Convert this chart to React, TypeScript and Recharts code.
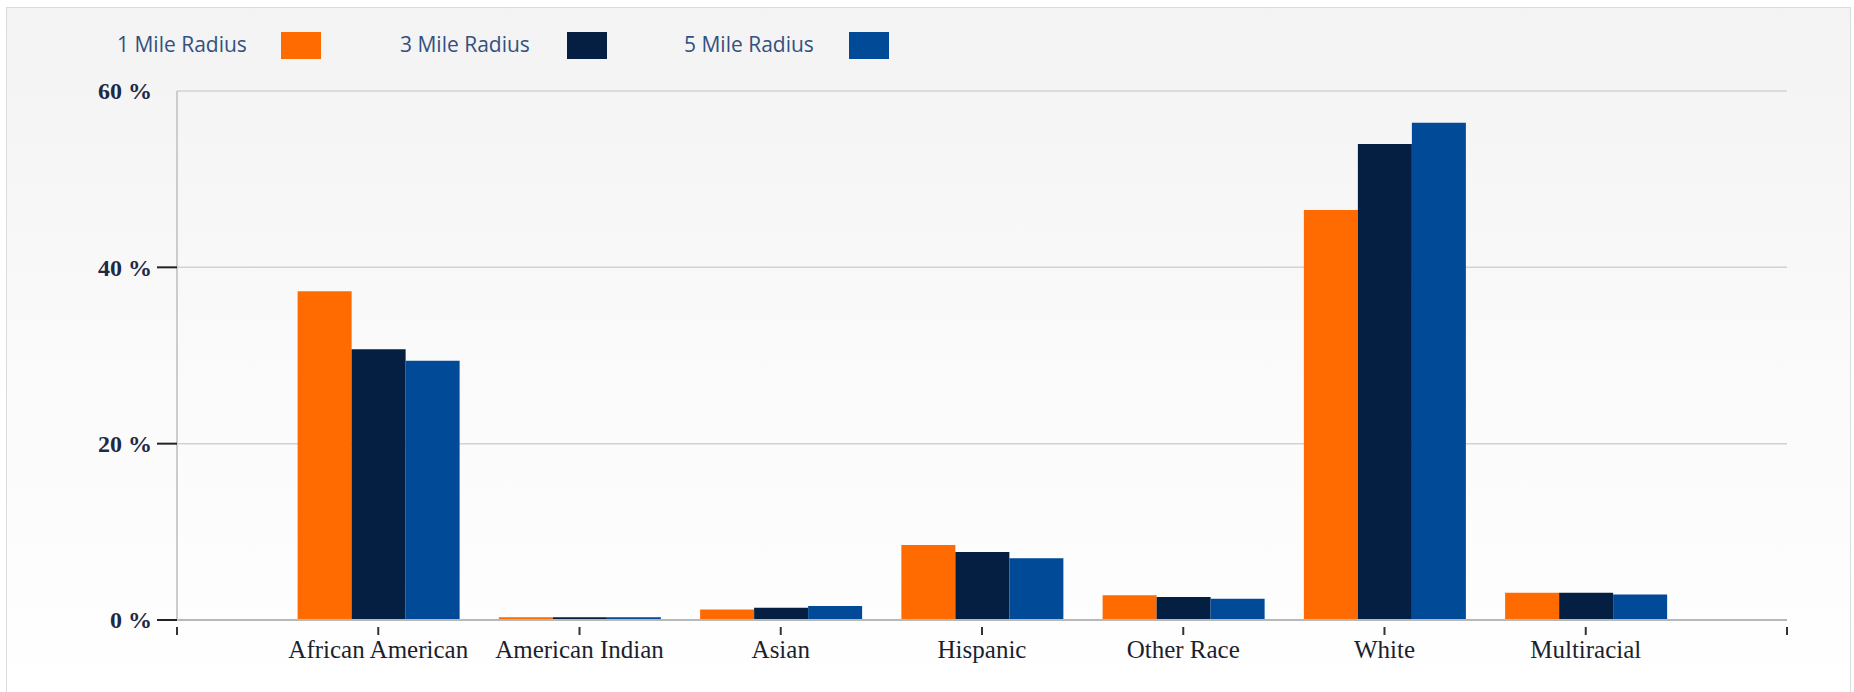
import React from "react";
import { BarChart, Bar, XAxis, YAxis, CartesianGrid } from "recharts";

const categories = [
  "African American",
  "American Indian",
  "Asian",
  "Hispanic",
  "Other Race",
  "White",
  "Multiracial",
];
const oneMile = [37.3, 0.3, 1.2, 8.5, 2.8, 46.5, 3.1];
const threeMile = [30.7, 0.3, 1.4, 7.7, 2.6, 54.0, 3.1];
const fiveMile = [29.4, 0.3, 1.6, 7.0, 2.4, 56.4, 2.9];
const yTicks = [0, 20, 40, 60];

const series = [
  { key: "one", name: "1 Mile Radius", color: "#ff6b00" },
  { key: "three", name: "3 Mile Radius", color: "#041f42" },
  { key: "five", name: "5 Mile Radius", color: "#004a97" },
];

// categories sit on slots 1..7 of a 0..8 numeric axis
const data = categories.map((name, i) => ({
  name,
  pos: i + 1,
  one: oneMile[i],
  three: threeMile[i],
  five: fiveMile[i],
}));
const xTicks = [0, 1, 2, 3, 4, 5, 6, 7, 8];

const XTick = (props: any) => {
  const { x, y, payload } = props;
  const label = categories[payload.value - 1] ?? "";
  return (
    <g>
      <line x1={x} x2={x} y1={y - 1} y2={y + 7} stroke="#333" strokeWidth={2} />
      <text
        x={x}
        y={y + 30}
        textAnchor="middle"
        fontFamily="'Liberation Serif', serif"
        fontSize={25}
        fill="#1b1f2e"
      >
        {label}
      </text>
    </g>
  );
};

const YTick = (props: any) => {
  const { x, y, payload } = props;
  return (
    <g>
      {payload.value !== 60 && (
        <line x1={x + 5} x2={x + 25} y1={y} y2={y} stroke="#222" strokeWidth={2} />
      )}
      <text
        x={x}
        y={y}
        dy="0.35em"
        textAnchor="end"
        fontFamily="'Liberation Serif', serif"
        fontWeight="bold"
        fontSize={24}
        fill="#1e2a44"
      >
        {`${payload.value} %`}
      </text>
    </g>
  );
};

const legendPos = [
  { text: 117, swatch: 281 },
  { text: 400, swatch: 567 },
  { text: 684, swatch: 849 },
];

export default function App() {
  return (
    <div
      style={{
        position: "absolute",
        left: 0,
        top: 0,
        width: 1854,
        height: 692,
        background: "#fff",
        overflow: "hidden",
      }}
    >
      <div
        style={{
          position: "absolute",
          left: 6,
          top: 7,
          width: 1843,
          height: 700,
          border: "1px solid #dcdcdc",
          background: "linear-gradient(#f3f3f3 0%, #fafafa 50%, #ffffff 100%)",
        }}
      />
      {series.map((s, i) => (
        <React.Fragment key={s.key}>
          <div
            style={{
              position: "absolute",
              left: legendPos[i].text,
              top: 31,
              fontFamily: "'Liberation Sans Narrow', 'Open Sans', sans-serif",
              fontSize: 21,
              lineHeight: "26px",
              color: "#34507f",
              whiteSpace: "nowrap",
            }}
          >
            {s.name}
          </div>
          <div
            style={{
              position: "absolute",
              left: legendPos[i].swatch,
              top: 32,
              width: 40,
              height: 27,
              background: s.color,
            }}
          />
        </React.Fragment>
      ))}
      <div style={{ position: "absolute", left: 0, top: 0 }}>
        <BarChart
          width={1854}
          height={692}
          data={data}
          margin={{ top: 91, right: 67, left: 0, bottom: 12 }}
          barGap={0}
          barSize={54}
        >
          <CartesianGrid vertical={false} stroke="#d2d2d2" strokeWidth={1.5} />
          <XAxis
            dataKey="pos"
            type="number"
            domain={[0, 8]}
            ticks={xTicks}
            interval={0}
            height={60}
            tickLine={false}
            tick={<XTick />}
            axisLine={{ stroke: "#b8b8b8", strokeWidth: 2 }}
          />
          <YAxis
            domain={[0, 60]}
            ticks={yTicks}
            width={177}
            tickSize={20}
            tickMargin={5}
            tickLine={false}
            tick={<YTick />}
            axisLine={{ stroke: "#cccccc", strokeWidth: 2 }}
          />
          {series.map((s) => (
            <Bar
              key={s.key}
              dataKey={s.key}
              name={s.name}
              fill={s.color}
              isAnimationActive={false}
            />
          ))}
        </BarChart>
      </div>
    </div>
  );
}
